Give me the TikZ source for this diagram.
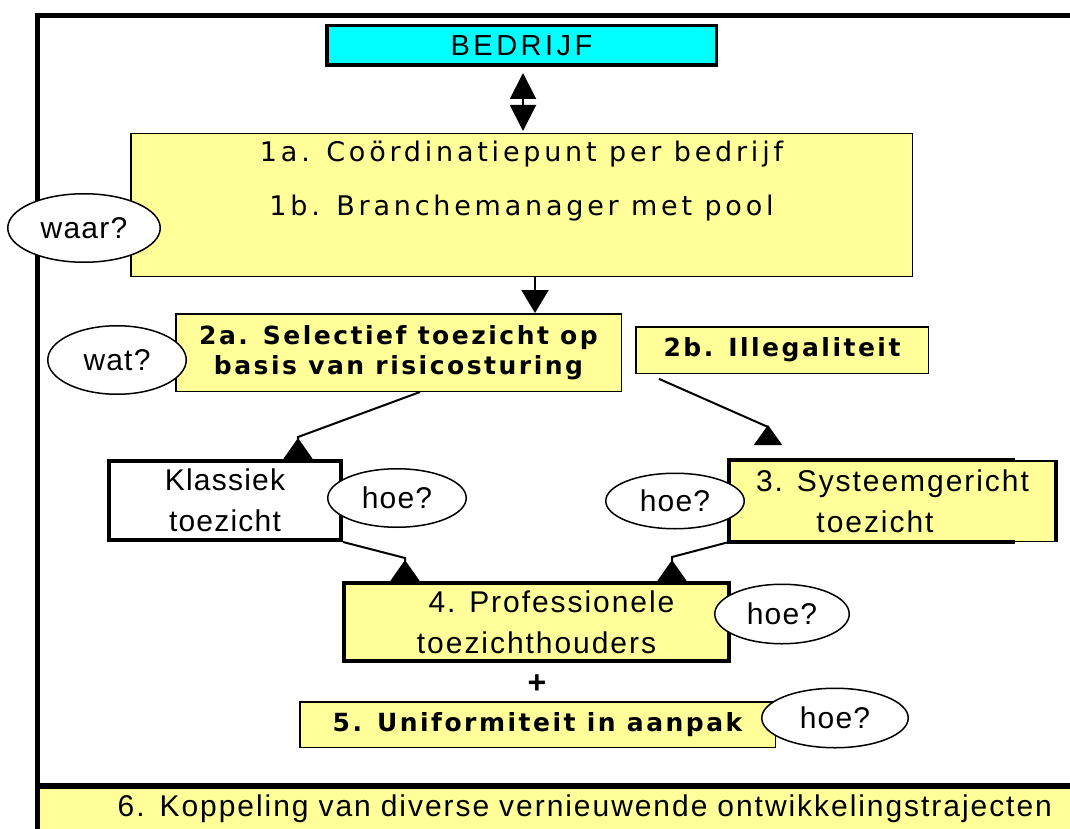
\documentclass[tikz,border=0pt]{standalone}
\usepackage{fontspec}
\setmainfont{Liberation Sans}
\newfontfamily\labelfont[LetterSpace=4]{Liberation Sans}
\newfontfamily\widefont[LetterSpace=6.5]{Liberation Sans}
\newfontfamily\titlefont[LetterSpace=12]{Liberation Sans}
\newfontfamily\verafont[LetterSpace=14]{DejaVu Sans}
\newfontfamily\veraboldfont[LetterSpace=10]{DejaVu Sans}
\usepackage{xcolor}
\usetikzlibrary{arrows.meta,shapes.geometric}

\definecolor{paleyellow}{HTML}{FFFF99}
\definecolor{brightcyan}{HTML}{00FFFF}

\tikzset{flip/.tip={Triangle[reversed,length=21pt,width=29pt]}}

\begin{document}
\begin{tikzpicture}[x=1pt,y=-1pt]
            \useasboundingbox (0,0) rectangle (1070,829);

            % frame
            \draw[line width=5.5pt] (37.5,829) -- (37.5,15.5) -- (1070,15.5);
            \draw[line width=6pt] (37.5,785.5) -- (1070,785.5);

            \node[fill=paleyellow, minimum width=1030pt, minimum height=40pt,
                  text width=994pt, inner xsep=18pt, inner ysep=0pt, align=right,
                  font=\widefont\fontsize{30}{36}\selectfont]
                  (traject) at (555,809) {6. Koppeling van diverse vernieuwende ontwikkelingstrajecten};

            \begin{scope}[every node/.style = {rectangle, draw, fill=paleyellow, line width=1.5pt,
                                               inner sep=0pt, align=center}]
                \node[minimum width=781.5pt, minimum height=142.5pt,
                      font=\verafont\fontsize{27}{54}\selectfont]
                      (coord) at (521.5,205) {1a. Coördinatiepunt per bedrijf\\1b. Branchemanager met pool\\~};
                \node[minimum width=445.5pt, minimum height=77.5pt,
                      font=\veraboldfont\bfseries\fontsize{25}{30}\selectfont]
                      (sel) at (398.5,352.5) {2a. Selectief toezicht op\\basis van risicosturing};
                \node[minimum width=292.5pt, minimum height=46.5pt,
                      font=\veraboldfont\bfseries\fontsize{25}{30}\selectfont]
                      (illeg) at (782,350) {2b. Illegaliteit};
                \node[minimum width=475.5pt, minimum height=45.5pt,
                      font=\veraboldfont\bfseries\fontsize{25}{30}\selectfont]
                      (unif) at (537.5,724.5) {5. Uniformiteit in aanpak};
                \node[minimum width=325.5pt, minimum height=80.5pt,
                      font=\widefont\fontsize{30}{41}\selectfont]
                      (sys) at (892.5,501) {3. Systeemgericht\\toezicht\hspace*{35pt}};
            \end{scope}
            % heavy edges of box 3
            \draw[line width=4pt] (sys.north -| 1015,0) -- (sys.north west) -- (sys.south west) -- (sys.south -| 1015,0);
            \draw[line width=4pt] (sys.north east) -- (sys.south east);

            \begin{scope}[every node/.style = {rectangle, draw, line width=4pt, inner sep=0pt, align=center,
                                               font=\widefont\fontsize{30}{41}\selectfont}]
                \node[fill=brightcyan, line width=3.5pt, minimum width=389.5pt, minimum height=39.5pt,
                      font=\titlefont\fontsize{29}{34}\selectfont]
                      (bedrijf) at (521.5,45.5) {BEDRIJF};
                \node[fill=white, minimum width=232pt, minimum height=79pt,
                      font=\labelfont\fontsize{30}{41}\selectfont]
                      (klas) at (225,500.5) {Klassiek\\toezicht};
                \node[fill=paleyellow, minimum width=385pt, minimum height=78pt]
                      (prof) at (536.5,622) {\hspace*{30pt}4. Professionele\\toezichthouders};
            \end{scope}

            \node[font=\bfseries\fontsize{32}{36}\selectfont] (plus) at (537,684) {+};

            \begin{scope}[line width=2pt, >={Triangle[length=23pt,width=27pt]}]
                \coordinate (k1) at (298,437);
                \coordinate (k2) at (768,427);
                \coordinate (k3) at (405,558);
                \coordinate (k4) at (672,557);

                \draw [{Triangle[length=26pt,width=26pt]}-{Triangle[length=26pt,width=26pt]},
                       shorten <=6pt, shorten >=2pt] (bedrijf.south -| 523,0) -- (coord.north -| 523,0);
                \draw [->] (coord.south -| 535,0) -- (sel.north -| 535,0);
                \draw [-flip] (sel.south -| 420,0) -- (k1) -- (klas.north -| k1);
                \draw [-{Triangle[reversed,length=20pt,width=28pt]}, shorten <=12pt, shorten >=15pt]
                      (illeg.south -| 648,0) -- (k2) -- (sys.north -| k2);
                \draw [-flip] (klas.south east) -- (k3) -- (prof.north -| k3);
                \draw [-flip] (sys.south west) -- (k4) -- (prof.north -| k4);
            \end{scope}

            \begin{scope}[every node/.style = {ellipse, draw, fill=white, line width=1.5pt, inner sep=0pt,
                                               font=\labelfont\fontsize{30}{36}\selectfont}]
                \node[minimum width=152.5pt, minimum height=68.5pt] (waar) at (84,228)  {waar?};
                \node[minimum width=138.5pt, minimum height=68.5pt] (wat)  at (117,360) {wat?};
                \node[minimum width=138.5pt, minimum height=58.5pt] (hoeA) at (397,498) {hoe?};
                \node[minimum width=138.5pt, minimum height=55.5pt] (hoeB) at (675,501) {hoe?};
                \node[minimum width=134.5pt, minimum height=59.5pt] (hoeC) at (782,614) {hoe?};
                \node[minimum width=146.5pt, minimum height=59.5pt] (hoeD) at (835,718) {hoe?};
            \end{scope}
        \end{tikzpicture}
\end{document}
